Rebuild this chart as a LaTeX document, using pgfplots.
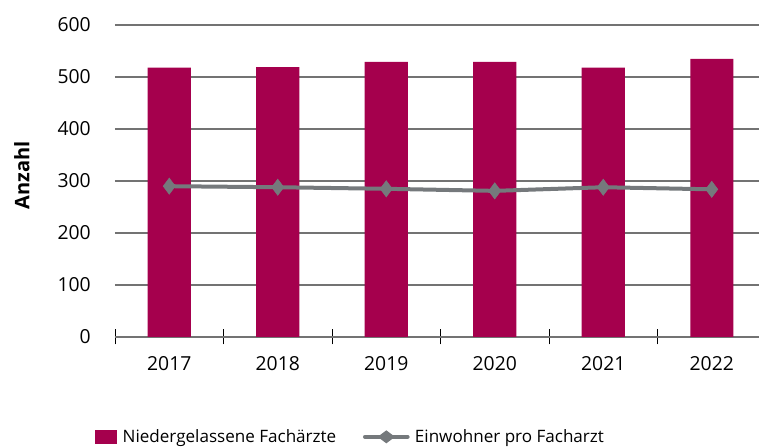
\documentclass[border=0pt]{standalone}
\usepackage{pgfplots}
\pgfplotsset{compat=1.18}
\usepackage{fontspec}
\setmainfont{Open Sans}
\definecolor{barc}{HTML}{A5004D}
\definecolor{linec}{HTML}{75797C}
\begin{document}
\begin{tikzpicture}[x=0.75pt,y=0.75pt]
\begin{axis}[
  at={(0,0)}, anchor=south west,
  scale only axis,
  width=488.25pt, height=234pt,
  xmin=0.5, xmax=6.5,
  ymin=0, ymax=600,
  ytick={0,100,...,600},
  ymajorgrids,
  grid style={draw=gray!90!black, line width=0.8pt},
  axis y line*=left,
  axis x line*=bottom,
  y axis line style={draw=none},
  x axis line style={draw=gray!90!black, line width=0.8pt},
  major y tick style={draw=none},
  xtick={0.5,1.5,...,5.5},
  xticklabels={},
  major x tick style={draw=black, line width=0.6pt},
  major tick length=11.25pt,
  tick align=center,
  extra x ticks={1,2,3,4,5,6},
  extra x tick labels={2017,2018,2019,2020,2021,2022},
  extra x tick style={major tick length=0pt, tick style={draw=none}, grid=none},
  tick label style={font=\fontsize{14.5}{16}\selectfont},
  yticklabel style={xshift=-9pt},
  xticklabel style={yshift=-11pt},
  /pgf/number format/assume math mode=true,
  ylabel={\bfseries Anzahl},
  every axis y label/.style={at={(axis description cs:-0.1429,0.5176)}, rotate=90, anchor=center,
    font=\fontsize{15}{17}\selectfont},
  legend columns=2,
  legend style={at={(rel axis cs:0.3625,-0.32)}, anchor=center, draw=none, fill=none,
    font=\fontsize{12.8}{15}\selectfont, column sep=2pt,
    /tikz/every even column/.append style={column sep=18pt}},
]
\addplot[ybar, bar width=32.25pt, fill=barc, draw=none, area legend,
  legend image code/.code={\fill[barc] (-2pt,-5.5pt) rectangle (14.5pt,5.5pt);}]
  coordinates {(1,518) (2,519) (3,529) (4,529) (5,518) (6,535)};
\addlegendentry{Niedergelassene Fachärzte}
\addplot[linec, line width=3pt, mark=diamond*, mark size=6pt, mark options={fill=linec, draw=linec, line width=0.5pt},
  legend image code/.code={\draw[linec, line width=3pt, line cap=round] (0pt,0pt) -- (32pt,0pt); \fill[linec] (16pt,0pt) ++(-4pt,0) -- ++(4pt,3pt) -- ++(4pt,-3pt) -- ++(-4pt,-3pt) -- cycle;}]
  coordinates {(1,290) (2,288) (3,285) (4,281) (5,288) (6,284)};
\addlegendentry{Einwohner pro Facharzt}
\end{axis}
\pgfresetboundingbox
\useasboundingbox (-86.25pt,-83.25pt) rectangle (483pt,252.75pt);
\end{tikzpicture}
\end{document}
